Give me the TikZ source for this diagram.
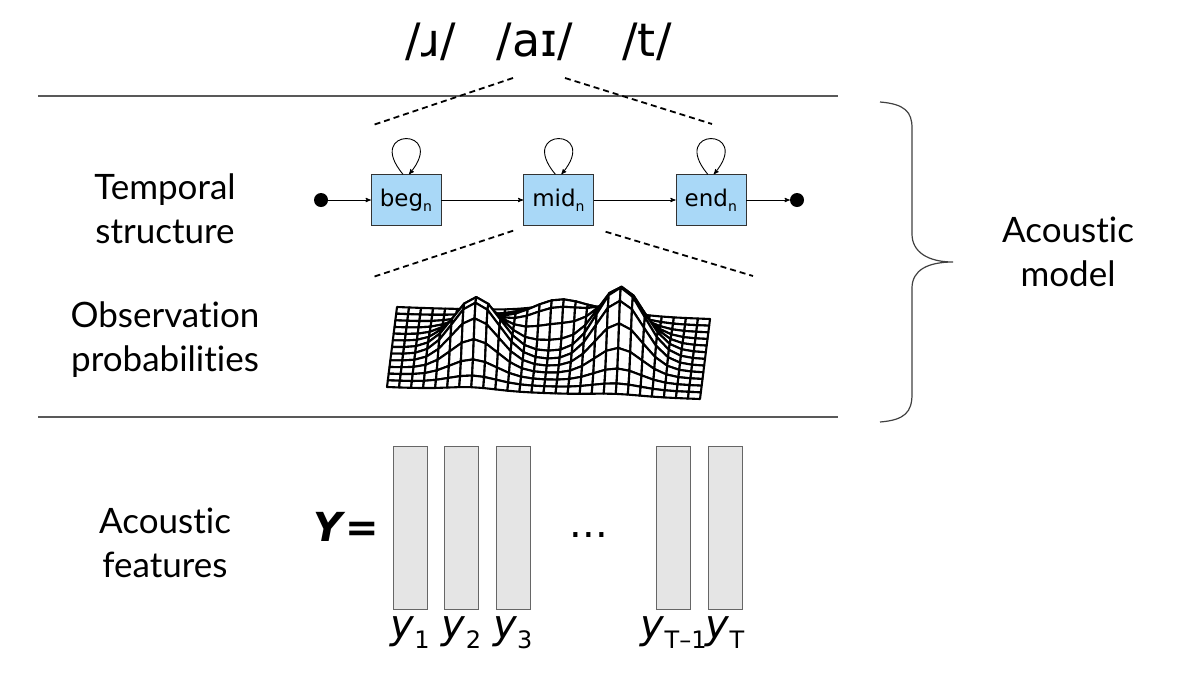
\documentclass[tikz,border=0pt]{standalone}
\usepackage{fontspec}
\setsansfont{Lato}[Ligatures=NoCommon]
\newfontfamily\dejavu{DejaVu Sans}
\usepackage{tikz}
\usetikzlibrary{positioning, arrows.meta, arrows}

\definecolor{statefill}{HTML}{A9D8F7}
\newcommand{\stname}[1]{#1\raisebox{-5pt}{\fontsize{14}{14}\selectfont n}}
\newcommand{\obsname}[1]{\textit{y}\raisebox{-10pt}{\fontsize{24}{24}\selectfont #1}}

\begin{document}
\begin{tikzpicture}[x=1pt,y=-1pt,>=stealth',
    lbl/.style={font=\sffamily\fontsize{35}{44}\selectfont, align=center},
    phon/.style={font=\dejavu\fontsize{46}{46}\selectfont},
    stbox/.style={draw=black!80, fill=statefill, minimum width=70pt, minimum height=51pt, inner sep=0pt, font=\dejavu\fontsize{23}{23}\selectfont},
    dot/.style={circle, fill=black, minimum size=14pt, inner sep=0pt},
    feat/.style={draw=black!60, fill=black!10, minimum width=34pt, minimum height=163pt, inner sep=0pt},
    ylbl/.style={font=\dejavu\fontsize{40}{40}\selectfont},
    trans/.style={->, line width=0.9pt},
    selfloop/.style={->, line width=0.9pt, out=130, in=50, min distance=62pt},
    rule/.style={draw=black!65, line width=1.3pt},
    zoomline/.style={dash pattern=on 6pt off 4pt, line width=1.8pt},
    mesh/.style={draw=black, fill=white, line width=2.1pt, line join=round},
    declare function={
      sz(\u,\v)=55*exp(-((\u-0.27)^2/0.011+(\v-0.45)^2/0.07))
               +68*exp(-((\u-0.73)^2/0.011+(\v-0.5)^2/0.07))
               +28*exp(-((\u-0.53)^2/0.02+(\v-0.8)^2/0.03));
      sx(\u,\v)=387+313*\u+10*\v;
      sy(\u,\v)=387+12*\u-80*\v-sz(\u,\v);}]
  \useasboundingbox (0,0) rectangle (1182,678);

  % phonemes
  \node[phon] (r) at (431,42) {/ɹ/};
  \node[phon] (ai) at (535,42) {/aɪ/};
  \node[phon] (t) at (647,42) {/t/};

  % acoustic model band
  \draw[rule] (38,96) -- (838,96);
  \draw[rule] (38,417) -- (838,417);

  % observation surface, back to front
  \foreach \j in {11,...,0}{
    \foreach \i in {0,...,25}{
      \pgfmathsetmacro\ua{\i/26}
      \pgfmathsetmacro\ub{(\i+1)/26}
      \pgfmathsetmacro\va{\j/12}
      \pgfmathsetmacro\vb{(\j+1)/12}
      \draw[mesh] ({sx(\ua,\va)},{sy(\ua,\va)}) -- ({sx(\ub,\va)},{sy(\ub,\va)})
        -- ({sx(\ub,\vb)},{sy(\ub,\vb)}) -- ({sx(\ua,\vb)},{sy(\ua,\vb)}) -- cycle;
    }
  }

  \node[lbl] (temporal) at (165,209) {Temporal\\structure};
  \node[lbl] (obs) at (165,340) {Observation\\probabilities};

  % HMM states
  \node[stbox] (beg) at (406,200) {\stname{beg}};
  \node[stbox] (mid) [right=82pt of beg] {\stname{mid}};
  \node[stbox] (fin) [right=82pt of mid] {\stname{end}};
  \node[dot] (start) at (321,200) {};
  \node[dot] (stop) at (797,200) {};

  \path[trans] (start) edge (beg)
               (beg) edge (mid)
               (mid) edge (fin)
               (fin) edge (stop);
  \draw[selfloop] ([xshift=-3pt]beg.north) to ([xshift=3pt]beg.north);
  \draw[selfloop] ([xshift=-3pt]mid.north) to ([xshift=3pt]mid.north);
  \draw[selfloop] ([xshift=-3pt]fin.north) to ([xshift=3pt]fin.north);

  % zoom lines
  \coordinate (ai-l) at (513,78);
  \coordinate (ai-r) at (565,78);
  \coordinate (hmm-l) at (373,125);
  \coordinate (hmm-r) at (712,124);
  \coordinate (pdf-l) at (373,277);
  \coordinate (pdf-r) at (753,276);
  \draw[zoomline] (ai-l) -- (hmm-l);
  \draw[zoomline] (ai-r) -- (hmm-r);
  \draw[zoomline] ([shift={(-10,5)}]mid.south west) -- (pdf-l);
  \draw[zoomline] ([shift={(12,6)}]mid.south east) -- (pdf-r);

  % brace
  \draw[black!75, line width=1.2pt] (880,102) .. controls (905,104) and (912,112) .. (912,128)
    -- (912,234) .. controls (912,252) and (928,262) .. (953,262)
    .. controls (928,262) and (912,270) .. (912,288)
    -- (912,394) .. controls (912,412) and (905,420) .. (880,422);
  \coordinate (tip) at (953,262);
  \node[lbl] (am) at (1068,252) {Acoustic\\model};

  % features
  \node[lbl] (feats) at (165,543) {Acoustic\\features};
  \node[font=\dejavu\bfseries\fontsize{40}{40}\selectfont] (Y) at (346,527) {\textit{Y}=};
  \node[feat] (f1) at (410,528) {};
  \node[feat] (f2) [right=17pt of f1] {};
  \node[feat] (f3) [right=17pt of f2] {};
  \node[ylbl] (dots) at (589,535) {...};
  \node[feat] (f4) at (673.5,528) {};
  \node[feat] (f5) [right=17pt of f4] {};
  \node[ylbl] (y1) [below=3pt of f1] {\obsname{1}};
  \node[ylbl] (y2) [below=3pt of f2] {\obsname{2}};
  \node[ylbl] (y3) [below=3pt of f3] {\obsname{3}};
  \node[ylbl] (y4) [below=3pt of f4] {\obsname{T–1}};
  \node[ylbl] (y5) [below=3pt of f5] {\obsname{T}};
\end{tikzpicture}
\end{document}
